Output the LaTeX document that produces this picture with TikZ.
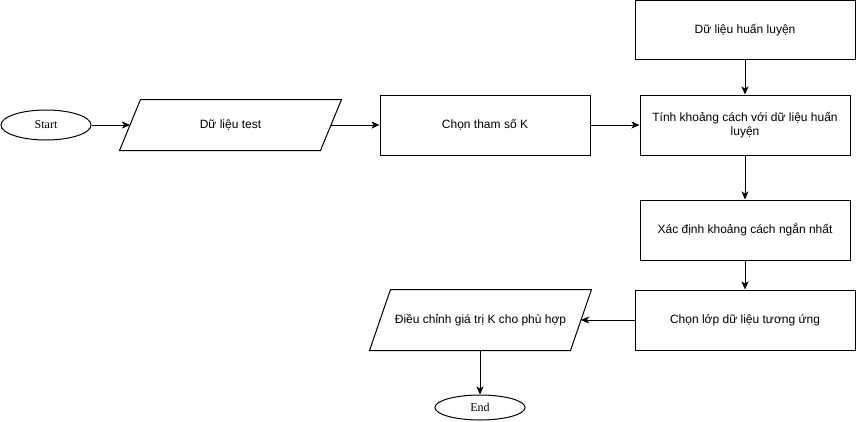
\documentclass[tikz,border=0pt]{standalone}
\usepackage{fontspec}
\setmainfont{Liberation Sans}
\newfontfamily\serifx{Liberation Serif}
\usetikzlibrary{shapes.geometric,arrows.meta,calc}
\begin{document}
\begin{tikzpicture}[x=1pt,y=-1pt,
  font=\fontsize{12}{14}\selectfont,
  every node/.style={line width=1pt},
  box/.style={draw, rectangle, minimum height=60pt, inner sep=0pt, align=center},
  io/.style={rectangle, minimum width=221pt, inner sep=0pt, align=center},
  term/.style={draw, ellipse, inner sep=0pt, font=\serifx\fontsize{12}{14}\selectfont},
  para/.style={draw, line width=1pt},
  arr/.style={line width=1pt, -{Stealth[length=8pt,width=7pt,inset=2pt]}}]
\useasboundingbox (0,0) rectangle (856,421);

\node[term, minimum width=90pt, minimum height=30pt] (start) at (46,125) {Start};
\node[io, minimum height=50pt] (test) at (230.5,125) {Dữ liệu test};
\draw[para] ($(test.north west)+(21,0)$) -- (test.north east) -- ($(test.south east)+(-21,0)$) -- (test.south west) -- cycle;
\coordinate (testL) at ($(test.west)+(10.5,0)$);
\coordinate (testR) at ($(test.east)+(-10.5,0)$);
\node[box, minimum width=210pt] (k) at (485,125) {Chọn tham số K};
\node[box, minimum width=220pt, minimum height=59pt] (train) at (745,30) {Dữ liệu huấn luyện};
\node[box, minimum width=210pt] (dist) at (745,125) {Tính khoảng cách với dữ liệu huấn\\luyện};
\node[box, minimum width=210pt] (near) at (745,230) {Xác định khoảng cách ngắn nhất};
\node[box, minimum width=220pt] (cls) at (745,320) {Chọn lớp dữ liệu tương ứng};
\node[io, minimum height=60pt] (adj) at (480.5,320) {Điều chỉnh giá trị K cho phù hợp};
\draw[para] ($(adj.north west)+(21,0)$) -- (adj.north east) -- ($(adj.south east)+(-21,0)$) -- (adj.south west) -- cycle;
\coordinate (adjR) at ($(adj.east)+(-10.5,0)$);
\node[term, minimum width=90pt, minimum height=25pt] (end) at (480,407.5) {End};

\draw[arr] (start) -- (testL);
\draw[arr] (testR) -- (k);
\draw[arr] (k) -- (dist);
\draw[arr] (train) -- (dist);
\draw[arr] (dist) -- (near);
\draw[arr] (near) -- (cls);
\draw[arr] (cls) -- (adjR);
\draw[arr] (adj.south -| end.north) -- (end.north);
\end{tikzpicture}
\end{document}
